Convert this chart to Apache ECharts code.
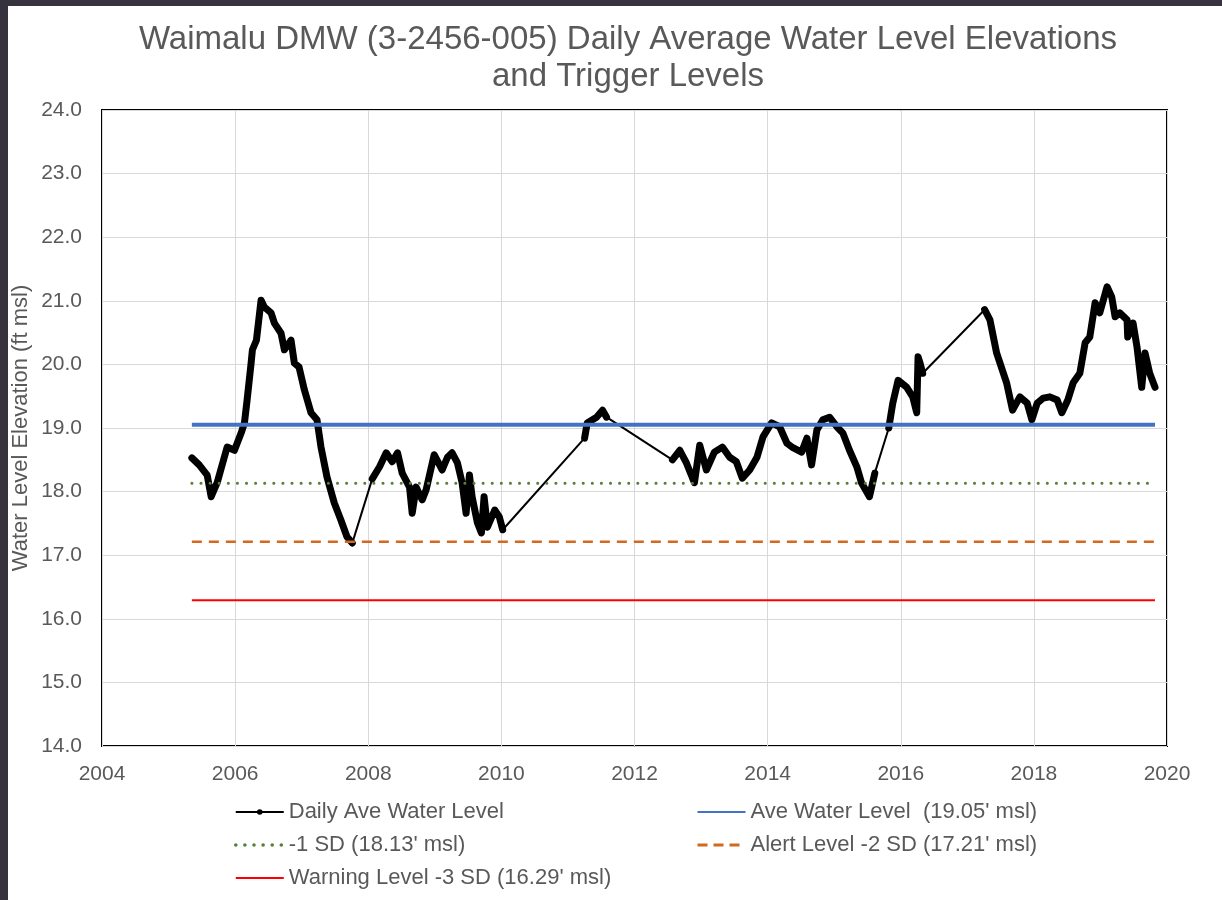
<!DOCTYPE html>
<html>
<head>
<meta charset="utf-8">
<script src="https://cdn.jsdelivr.net/npm/echarts@6/dist/echarts.min.js"></script>
<style>
  html, body { margin: 0; padding: 0; background: #36333f; width: 1222px; height: 900px; overflow: hidden; }
  #chart { position: absolute; left: 8px; top: 6px; width: 1214px; height: 894px; background: #ffffff; }
</style>
</head>
<body>
<div id="chart"></div>
<script>
// ---- Data (decimal years, ft msl) ----
const years = [
  2005.35, 2005.46, 2005.58, 2005.64, 2005.73, 2005.88, 2005.99, 2006.09, 2006.14, 2006.18,
  2006.24, 2006.26, 2006.32, 2006.39, 2006.44, 2006.54, 2006.59, 2006.69, 2006.74, 2006.84,
  2006.89, 2006.96, 2007.04, 2007.14, 2007.23, 2007.29, 2007.38, 2007.49, 2007.59, 2007.68,
  2007.76,
  2008.06, 2008.17, 2008.27, 2008.36, 2008.44, 2008.51, 2008.62, 2008.66, 2008.72, 2008.81,
  2008.87, 2008.99, 2009.11, 2009.19, 2009.26, 2009.34, 2009.41, 2009.47, 2009.52, 2009.56,
  2009.64, 2009.70, 2009.74, 2009.79, 2009.90, 2009.97, 2010.02,
  2011.25, 2011.29, 2011.43, 2011.52, 2011.58,
  2012.57, 2012.68, 2012.78, 2012.90, 2012.98, 2013.08, 2013.20, 2013.32, 2013.43, 2013.53,
  2013.62, 2013.73, 2013.84, 2013.93, 2014.06, 2014.18, 2014.29, 2014.38, 2014.51, 2014.59,
  2014.66, 2014.74, 2014.83, 2014.93, 2015.04, 2015.13, 2015.23, 2015.34, 2015.41, 2015.53,
  2015.61,
  2015.82, 2015.88, 2015.96, 2016.09, 2016.18, 2016.24, 2016.26, 2016.29, 2016.33,
  2017.26, 2017.34, 2017.44, 2017.59, 2017.68, 2017.79, 2017.90, 2017.97, 2018.05, 2018.14,
  2018.24, 2018.35, 2018.42, 2018.51, 2018.59, 2018.69, 2018.77, 2018.84, 2018.92, 2018.99,
  2019.10, 2019.17, 2019.22, 2019.29, 2019.40, 2019.41, 2019.49, 2019.55, 2019.62, 2019.67,
  2019.74, 2019.82
];
const levels = [
  18.53, 18.42, 18.26, 17.92, 18.14, 18.70, 18.65, 18.92, 19.08, 19.44,
  20.02, 20.23, 20.38, 21.01, 20.90, 20.81, 20.65, 20.49, 20.23, 20.38,
  20.02, 19.96, 19.60, 19.24, 19.13, 18.70, 18.23, 17.82, 17.55, 17.29,
  17.19,
  18.20, 18.39, 18.61, 18.47, 18.61, 18.29, 18.07, 17.66, 18.07, 17.87,
  18.03, 18.58, 18.34, 18.54, 18.61, 18.45, 18.14, 17.66, 18.26, 17.92,
  17.51, 17.35, 17.92, 17.44, 17.71, 17.60, 17.40,
  18.84, 19.08, 19.17, 19.28, 19.17,
  18.50, 18.65, 18.45, 18.14, 18.73, 18.34, 18.62, 18.70, 18.54, 18.47,
  18.21, 18.34, 18.54, 18.86, 19.08, 19.02, 18.76, 18.69, 18.62, 18.84,
  18.42, 18.97, 19.13, 19.17, 19.02, 18.92, 18.65, 18.39, 18.14, 17.92,
  18.29,
  19.00, 19.39, 19.75, 19.64, 19.49, 19.24, 20.12, 20.02, 19.86,
  20.86, 20.70, 20.18, 19.71, 19.28, 19.49, 19.39, 19.13, 19.39, 19.47,
  19.49, 19.44, 19.24, 19.44, 19.71, 19.86, 20.34, 20.43, 20.97, 20.81,
  21.22, 21.06, 20.75, 20.81, 20.70, 20.43, 20.65, 20.27, 19.64, 20.18,
  19.86, 19.64
];
// Years after which there is a gap in the daily record (drawn as a thin connecting line)
const gapAfterYears = [2007.76, 2010.02, 2011.58, 2015.61, 2016.33];

// Trigger levels (ft msl)
const aveLevel = 19.05;
const sd1Level = 18.13;
const alertLevel = 17.21;
const warningLevel = 16.29;
const levelSpan = [2005.35, 2019.82];

const yTicks = { min: 14, max: 24, interval: 1 };
const xTicks = { min: 2004, max: 2020, interval: 2 };

const seriesNames = [
  'Daily Ave Water Level',
  "Ave Water Level  (19.05' msl)",
  "-1 SD (18.13' msl)",
  "Alert Level -2 SD (17.21' msl)",
  "Warning Level -3 SD (16.29' msl)"
];

// ---- Build option ----
const pts = years.map((y, i) => [y, levels[i]]);
const densePts = [];
years.forEach((y, i) => {
  densePts.push([y, levels[i]]);
  if (gapAfterYears.includes(y)) densePts.push(['-', '-']);
});
const hLine = v => levelSpan.map(x => [x, v]);

const FONT = "'Liberation Sans', Arial, sans-serif";
const TXT = '#595959';
const noDot = (name, lineStyle) => {
  const item = { name: name, itemStyle: { opacity: 0 } };
  if (lineStyle) item.lineStyle = lineStyle;
  return item;
};

const legendCommon = {
  orient: 'vertical', top: 789,
  itemWidth: 48, itemHeight: 7, itemGap: 9,
  textStyle: { color: TXT, fontFamily: FONT, fontSize: 22, lineHeight: 24 }
};

const chart = echarts.init(document.getElementById('chart'), null, { renderer: 'canvas' });
chart.setOption({
  animation: false,
  backgroundColor: '#ffffff',
  title: {
    text: 'Waimalu DMW (3-2456-005) Daily Average Water Level Elevations\nand Trigger Levels',
    left: 615,
    top: 10,
    textAlign: 'center',
    textStyle: { fontFamily: FONT, fontSize: 33, fontWeight: 'normal', color: TXT, lineHeight: 37 }
  },
  grid: {
    left: 94, top: 104, right: 55, bottom: 154,
    outerBoundsMode: 'none',
    show: true, borderColor: '#000000', borderWidth: 2, backgroundColor: 'transparent'
  },
  xAxis: {
    type: 'value', min: xTicks.min, max: xTicks.max, interval: xTicks.interval,
    axisLine: { show: false }, axisTick: { show: false },
    splitLine: { show: true, lineStyle: { color: '#d9d9d9', width: 1 } },
    axisLabel: { color: TXT, fontFamily: FONT, fontSize: 21, margin: 18, formatter: v => String(v) }
  },
  yAxis: {
    type: 'value', min: yTicks.min, max: yTicks.max, interval: yTicks.interval,
    name: 'Water Level Elevation (ft msl)', nameLocation: 'middle', nameGap: 70,
    nameMoveOverlap: false,
    nameTextStyle: { color: TXT, fontFamily: FONT, fontSize: 22 },
    axisLine: { show: false }, axisTick: { show: false },
    splitLine: { show: true, lineStyle: { color: '#d9d9d9', width: 1 } },
    axisLabel: { color: TXT, fontFamily: FONT, fontSize: 21, margin: 20, formatter: v => v.toFixed(1) }
  },
  legend: [
    Object.assign({}, legendCommon, {
      left: 221,
      data: [
        seriesNames[0],
        noDot(seriesNames[2], { width: 3.5, type: [0.1, 9], cap: 'round' }),
        noDot(seriesNames[4])
      ]
    }),
    Object.assign({}, legendCommon, {
      left: 683,
      data: [noDot(seriesNames[1]), noDot(seriesNames[3], { width: 3, type: [10, 6] })]
    })
  ],
  series: [
    {
      name: seriesNames[0], type: 'line', data: pts, z: 3,
      symbol: 'circle', symbolSize: 5, showSymbol: true,
      itemStyle: { color: '#000000' },
      lineStyle: { color: '#000000', width: 2 }
    },
    {
      name: 'daily-dense', type: 'line', data: densePts, z: 3,
      symbol: 'none', connectNulls: false,
      lineStyle: { color: '#000000', width: 7, cap: 'round', join: 'round' }
    },
    {
      name: seriesNames[1], type: 'line', data: hLine(aveLevel), z: 4,
      symbol: 'none', itemStyle: { color: '#4472C4' },
      lineStyle: { color: '#4472C4', width: 4 }
    },
    {
      name: seriesNames[2], type: 'line', data: hLine(sd1Level), z: 4,
      symbol: 'none', itemStyle: { color: '#548235' },
      lineStyle: { color: '#548235', width: 3, type: [0.1, 9], cap: 'round' }
    },
    {
      name: seriesNames[3], type: 'line', data: hLine(alertLevel), z: 4,
      symbol: 'none', itemStyle: { color: '#D2691E' },
      lineStyle: { color: '#D2691E', width: 2.5, type: [10, 7] }
    },
    {
      name: seriesNames[4], type: 'line', data: hLine(warningLevel), z: 4,
      symbol: 'none', itemStyle: { color: '#FF0000' },
      lineStyle: { color: '#FF0000', width: 2 }
    }
  ]
});
</script>
</body>
</html>
